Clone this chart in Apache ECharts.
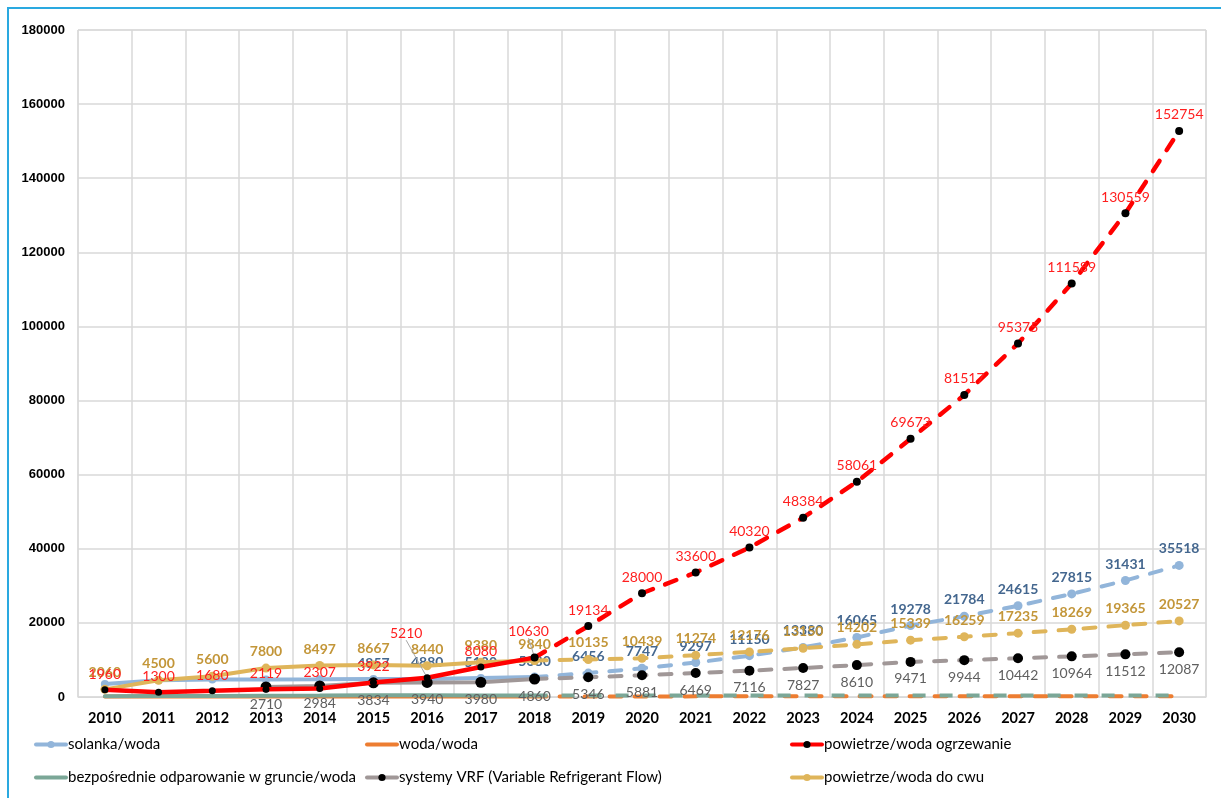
<!DOCTYPE html>
<html>
<head>
<meta charset="utf-8">
<title>pompy ciepła</title>
<script src="https://cdn.jsdelivr.net/npm/echarts@6/dist/echarts.min.js"></script>
<style>
  html, body { margin: 0; padding: 0; background: #fff; overflow: hidden; }
  #frame { position: absolute; left: 7px; top: 7px; width: 1300px; height: 900px;
           border-left: 2px solid #2aa9e0; border-top: 2px solid #2aa9e0; }
  #main { position: absolute; left: 0; top: 0; width: 1221px; height: 798px; }
</style>
</head>
<body>
<div id="frame"></div>
<div id="main"></div>
<script>
// lata
var years = ['2010','2011','2012','2013','2014','2015','2016','2017','2018','2019','2020',
             '2021','2022','2023','2024','2025','2026','2027','2028','2029','2030'];

// wartości serii
var solanka = [3500, 4500, 4700, 4750, 4800, 4857, 4880, 5120, 5380, 6456, 7747,
               9297, 11150, 13380, 16065, 19278, 21784, 24615, 27815, 31431, 35518];
var wodaWoda = [120, 120, 130, 130, 140, 150, 150, 150, 160, 160, 160,
                170, 170, 170, 180, 180, 180, 190, 190, 190, 200];
var ogrzewanie = [1960, 1300, 1680, 2119, 2307, 3922, 5210, 8080, 10630, 19134, 28000,
                  33600, 40320, 48384, 58061, 69673, 81517, 95375, 111589, 130559, 152754];
var grunt = [200, 250, 300, 350, 400, 500, 450, 400, 400, 400, 400,
             400, 400, 400, 400, 400, 400, 400, 400, 400, 400];
var vrf = [null, null, null, 2710, 2984, 3834, 3940, 3980, 4860, 5346, 5881,
           6469, 7116, 7827, 8610, 9471, 9944, 10442, 10964, 11512, 12087];
var cwu = [2060, 4500, 5600, 7800, 8497, 8667, 8440, 9380, 9840, 10135, 10439,
           11274, 12176, 13150, 14202, 15339, 16259, 17235, 18269, 19365, 20527];

var names = ['solanka/woda', 'woda/woda', 'powietrze/woda ogrzewanie',
             'bezpośrednie odparowanie w gruncie/woda',
             'systemy VRF (Variable Refrigerant Flow)', 'powietrze/woda do cwu'];

var SPLIT = 8; // 2018 - od tego roku prognoza (linia przerywana)
var labelFont = 'Lato, "Open Sans", sans-serif';

function makeSeries(name, values, o) {
    var out = [];
    [false, true].forEach(function (dashed) {
        var data = values.map(function (v, i) {
            var keep = dashed ? i >= SPLIT : i <= SPLIT;
            if (!keep) return null;
            var item = { value: v };
            if (o.moved && o.moved[i] && !dashed) {
                item.labelLine = { show: true, lineStyle: { color: '#a6a6a6', width: 1 } };
            }
            return item;
        });
        out.push({
            name: name,
            type: 'line',
            data: data,
            z: o.z || 2,
            symbol: o.symbol || 'none',
            symbolSize: dashed ? (o.sizeB || o.size) : o.size,
            showAllSymbol: true,
            itemStyle: { color: o.dot || o.color },
            lineStyle: {
                color: o.color, width: o.width || 4,
                type: dashed ? (o.dash || [12, 13]) : 'solid',
                cap: dashed ? (o.cap || 'round') : 'round'
            },
            label: {
                show: !!o.label,
                position: o.labelPos || 'top',
                distance: 5,
                color: o.labelColor,
                fontFamily: labelFont,
                fontSize: 14,
                fontWeight: o.bold ? 'bold' : 'normal',
                formatter: function (p) {
                    if (p.value == null) return '';
                    if (p.dataIndex < (o.labelFrom || 0)) return '';
                    if (dashed && p.dataIndex === SPLIT) return '';
                    return p.value;
                }
            },
            labelLayout: function (p) {
                if (!o.moved || dashed) return {};
                var m = o.moved[p.dataIndex];
                return m ? { dx: m[0], dy: m[1] } : {};
            },
            emphasis: { disabled: true },
            animation: false
        });
    });
    return out;
}

var series = [].concat(
    makeSeries(names[0], solanka, { color: '#92b5da', symbol: 'circle', size: 8, sizeB: 9,
        label: true, labelColor: '#44678f', bold: true, labelFrom: 5, z: 3 }),
    makeSeries(names[1], wodaWoda, { color: '#ed7d31', z: 2 }),
    makeSeries(names[2], ogrzewanie, { color: '#ff0000', dot: '#000000', symbol: 'circle',
        size: 7, sizeB: 8, width: 4.5, label: true, labelColor: '#ff1f1f', z: 6,
        moved: { 6: [-21, -29], 8: [-6, -11] } }),
    makeSeries(names[3], grunt, { color: '#7ba797', dash: [13, 14], cap: 'butt', z: 2 }),
    makeSeries(names[4], vrf, { color: '#a09797', dot: '#000000', symbol: 'circle',
        size: 11, sizeB: 10, label: true, labelColor: '#5f5f5f', labelPos: 'bottom', z: 4 }),
    makeSeries(names[5], cwu, { color: '#dfb55a', symbol: 'circle', size: 9, sizeB: 9,
        label: true, labelColor: '#c39639', bold: true, z: 5 })
);

var legendPos = [[34, 737], [365, 737], [790, 737], [34, 770], [365, 770], [790, 770]];
var legends = names.map(function (n, i) {
    var noDot = (i === 1 || i === 3);
    return {
        data: [n], left: legendPos[i][0], top: legendPos[i][1], padding: 0,
        itemWidth: 30, itemHeight: 9, itemGap: 2, selectedMode: false,
        itemStyle: noDot ? { opacity: 0 } : {},
        lineStyle: { width: 4 },
        textStyle: { fontFamily: labelFont, fontSize: 15, color: '#000', padding: [0, 0, 0, -3] }
    };
});

var chart = echarts.init(document.getElementById('main'));
chart.setOption({
    animation: false,
    legend: legends,
    grid: { left: 78, right: 15, top: 30, bottom: 101, show: true,
            borderColor: '#d9d9d9', borderWidth: 1 },
    xAxis: {
        type: 'category',
        data: years,
        boundaryGap: true,
        axisLine: { lineStyle: { color: '#d9d9d9' } },
        axisTick: { show: false },
        splitLine: { show: true, interval: 0, lineStyle: { color: '#d9d9d9', width: 1.5 } },
        axisLabel: { interval: 0, margin: 14, color: '#000', fontWeight: 'bold',
                     fontFamily: labelFont, fontSize: 14.5 }
    },
    yAxis: {
        type: 'value',
        min: 0, max: 180000, interval: 20000,
        axisLine: { show: false },
        axisTick: { show: false },
        splitLine: { lineStyle: { color: '#d9d9d9', width: 1.5 } },
        axisLabel: { margin: 13, color: '#000', fontWeight: 'bold',
                     fontFamily: '"Liberation Sans", Arial, sans-serif', fontSize: 13,
                     formatter: function (v) { return String(v); } }
    },
    series: series
});
</script>
</body>
</html>
